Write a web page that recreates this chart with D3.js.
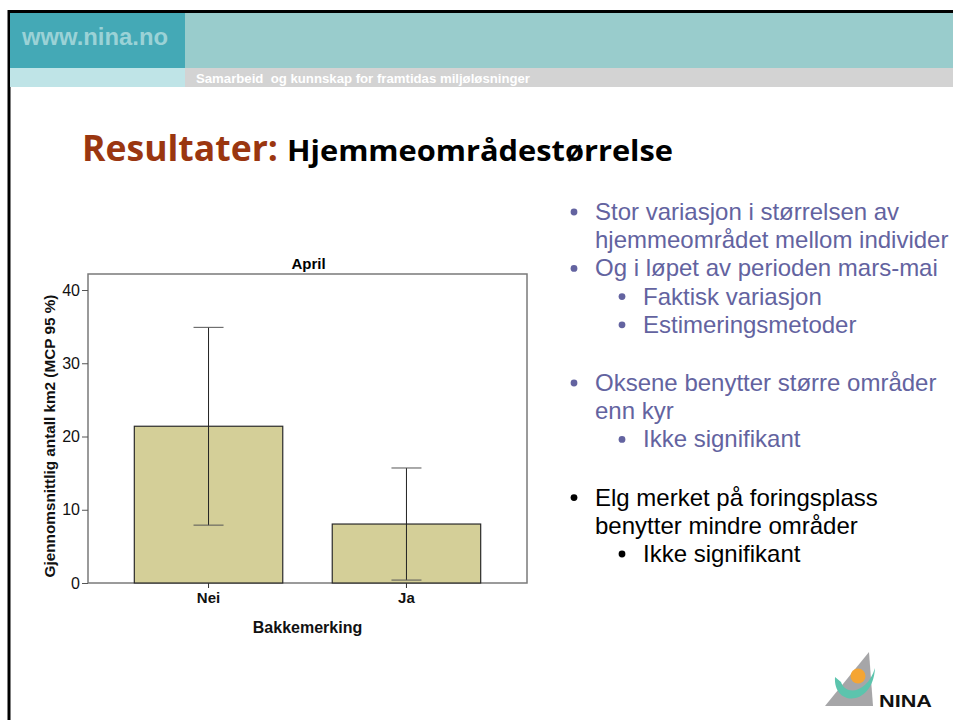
<!DOCTYPE html>
<html>
<head>
<meta charset="utf-8">
<script src="https://cdn.jsdelivr.net/npm/d3@7"></script>
<style>
  body { margin: 0; background: #fff; }
  svg { display: block; }
</style>
</head>
<body>
<div id="slide"></div>
<script>
// Chart data
const categories = ["Nei", "Ja"];
const means = [21.4, 8.05];
const upper = [34.9, 15.7];
const lower = [7.9, 0.4];
const yTicks = [0, 10, 20, 30, 40];

// Bullet text on the right
const bullets = [
  { level: 0, color: "#6363a0", lines: ["Stor variasjon i størrelsen av", "hjemmeområdet mellom individer"] },
  { level: 0, color: "#6363a0", lines: ["Og i løpet av perioden mars-mai"] },
  { level: 1, color: "#6363a0", lines: ["Faktisk variasjon"] },
  { level: 1, color: "#6363a0", lines: ["Estimeringsmetoder"], gapAfter: true },
  { level: 0, color: "#6363a0", lines: ["Oksene benytter større områder", "enn kyr"] },
  { level: 1, color: "#6363a0", lines: ["Ikke signifikant"], gapAfter: true },
  { level: 0, color: "#000", lines: ["Elg merket på foringsplass", "benytter mindre områder"] },
  { level: 1, color: "#000", lines: ["Ikke signifikant"] },
];

const W = 953, H = 720;
const svg = d3.select("#slide").append("svg").attr("width", W).attr("height", H);

// Slide frame
svg.append("rect").attr("x", 9).attr("y", 11.5).attr("width", W).attr("height", H)
  .attr("fill", "#fff").attr("stroke", "#000").attr("stroke-width", 3);

// Header bands
svg.append("rect").attr("x", 10).attr("y", 13).attr("width", 175).attr("height", 55).attr("fill", "#44a9b6");
svg.append("rect").attr("x", 185).attr("y", 13).attr("width", W - 185).attr("height", 55).attr("fill", "#99cccc");
svg.append("rect").attr("x", 10).attr("y", 68).attr("width", 175).attr("height", 19).attr("fill", "#bfe4e7");
svg.append("rect").attr("x", 185).attr("y", 68).attr("width", W - 185).attr("height", 19).attr("fill", "#d3d3d3");

svg.append("text").attr("x", 22).attr("y", 45)
  .style("font", "bold 23px 'Liberation Sans', Arial, sans-serif").attr("fill", "#9bd2d6")
  .attr("textLength", 146).attr("lengthAdjust", "spacingAndGlyphs")
  .text("www.nina.no");
svg.append("text").attr("x", 196).attr("y", 83)
  .style("font", "bold 12.5px 'Liberation Sans Narrow', 'Liberation Sans', Arial, sans-serif").attr("fill", "#fff")
  .attr("xml:space", "preserve")
  .attr("textLength", 334).attr("lengthAdjust", "spacingAndGlyphs")
  .text("Samarbeid  og kunnskap for framtidas miljøløsninger");

// Title
svg.append("text").attr("x", 82).attr("y", 161)
  .style("font", "bold 36px 'Open Sans', sans-serif").attr("fill", "#9a3610")
  .attr("textLength", 196).attr("lengthAdjust", "spacingAndGlyphs")
  .text("Resultater:");
svg.append("text").attr("x", 287).attr("y", 161)
  .style("font", "bold 29px 'Open Sans', sans-serif").attr("fill", "#000")
  .attr("textLength", 386).attr("lengthAdjust", "spacingAndGlyphs")
  .text("Hjemmeområdestørrelse");

// Bar chart
const plot = { left: 88, right: 527, top: 274, bottom: 583 };
const x = d3.scaleBand().domain(categories).range([plot.left, plot.right])
  .paddingInner(0.25).paddingOuter(0.234);
const y = d3.scaleLinear().domain([0, 40]).range([plot.bottom, 290]);

const chart = svg.append("g").style("font-family", "'Liberation Sans', Arial, sans-serif");

chart.append("rect").attr("x", plot.left).attr("y", plot.top)
  .attr("width", plot.right - plot.left).attr("height", plot.bottom - plot.top)
  .attr("fill", "none").attr("stroke", "#7a7a7a").attr("stroke-width", 1.5);

chart.selectAll("rect.bar").data(categories).enter().append("rect")
  .attr("class", "bar")
  .attr("x", d => x(d))
  .attr("y", (d, i) => y(means[i]))
  .attr("width", x.bandwidth())
  .attr("height", (d, i) => y(0) - y(means[i]))
  .attr("fill", "#d4cf98").attr("stroke", "#2a2a2a").attr("stroke-width", 1.2);

// Error bars
const err = chart.selectAll("g.err").data(categories).enter().append("g").attr("class", "err");
err.append("line")
  .attr("x1", d => x(d) + x.bandwidth() / 2).attr("x2", d => x(d) + x.bandwidth() / 2)
  .attr("y1", (d, i) => y(upper[i])).attr("y2", (d, i) => y(lower[i]))
  .attr("stroke", "#222").attr("stroke-width", 1);
[upper, lower].forEach(arr => {
  err.append("line")
    .attr("x1", d => x(d) + x.bandwidth() / 2 - 15).attr("x2", d => x(d) + x.bandwidth() / 2 + 15)
    .attr("y1", (d, i) => y(arr[i])).attr("y2", (d, i) => y(arr[i]))
    .attr("stroke", "#555").attr("stroke-width", 1);
});

// Axes
const yAxis = chart.append("g").attr("transform", `translate(${plot.left},0)`)
  .call(d3.axisLeft(y).tickValues(yTicks).tickSize(6).tickPadding(2));
yAxis.select(".domain").remove();
yAxis.selectAll("line").attr("stroke", "#555");
yAxis.selectAll("text").style("font-size", "16px").attr("fill", "#111");

const xAxis = chart.append("g").attr("transform", `translate(0,${plot.bottom})`)
  .call(d3.axisBottom(x).tickSize(5).tickPadding(4));
xAxis.select(".domain").remove();
xAxis.selectAll("line").attr("stroke", "#333");
xAxis.selectAll("text").style("font-size", "15px").style("font-weight", "bold").attr("fill", "#111");

chart.append("text").attr("x", (plot.left + plot.right) / 2 + 1).attr("y", 269)
  .attr("text-anchor", "middle").style("font-size", "15px").style("font-weight", "bold").text("April");
chart.append("text").attr("x", (plot.left + plot.right) / 2).attr("y", 633)
  .attr("text-anchor", "middle").style("font-size", "16px").style("font-weight", "bold").attr("fill", "#111")
  .text("Bakkemerking");
chart.append("text")
  .attr("transform", `translate(55,436) rotate(-90)`)
  .attr("text-anchor", "middle").style("font-size", "15.3px").style("font-weight", "bold").attr("fill", "#111")
  .text("Gjennomsnittlig antall km2 (MCP 95 %)");

// Bullets
const list = svg.append("g").style("font-family", "'Liberation Sans', Arial, sans-serif").style("font-size", "24px");
let ly = 220;
const lineH = 28.2;
bullets.forEach(b => {
  const bx = b.level ? 619 : 571;
  const tx = b.level ? 643 : 595;
  list.append("circle").attr("cx", bx + 3).attr("cy", ly - 8).attr("r", 3.4).attr("fill", b.color);
  b.lines.forEach(t => {
    list.append("text").attr("x", tx).attr("y", ly).attr("fill", b.color).text(t);
    ly += lineH;
  });
  if (b.gapAfter) ly += 30;
});

// NINA logo
const logo = svg.append("g");
logo.append("path").attr("d", "M825,706 L869,652 L873,706 Z").attr("fill", "#a6a6a8");
logo.append("path").attr("d", "M835,677 C833,707 873,707 875,668 C868,692 846,697 841,682 Z").attr("fill", "#5cc4ad");
logo.append("circle").attr("cx", 858).attr("cy", 676).attr("r", 7.5).attr("fill", "#f5a533");
logo.append("text").attr("x", 879).attr("y", 707)
  .style("font", "bold 17px 'Liberation Sans Narrow', 'Liberation Sans', Arial, sans-serif")
  .attr("fill", "#111").attr("textLength", 53).attr("lengthAdjust", "spacingAndGlyphs").text("NINA");
</script>
</body>
</html>
